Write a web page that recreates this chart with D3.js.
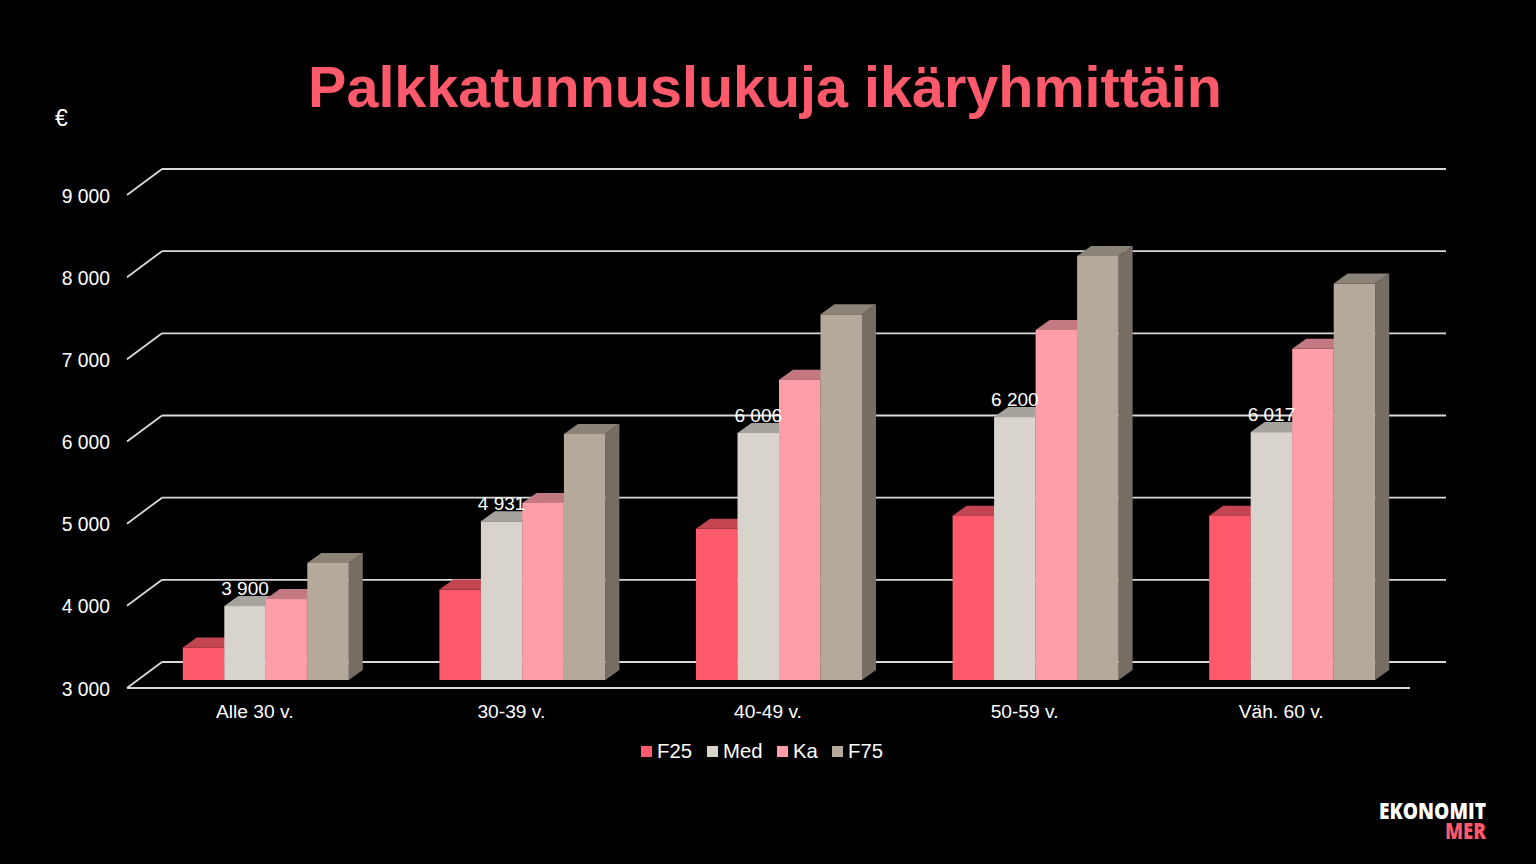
<!DOCTYPE html>
<html><head><meta charset="utf-8">
<script src="https://cdn.jsdelivr.net/npm/d3@7"></script>
<style>html,body{margin:0;padding:0;background:#000;overflow:hidden}svg{display:block}text{font-family:"Liberation Sans",Arial,sans-serif;fill:#fff}</style>
</head><body><svg id="c" width="1536" height="864"></svg>
<script>
const categories = ["Alle 30 v.","30-39 v.","40-49 v.","50-59 v.","Väh. 60 v."];
const seriesNames = ["F25","Med","Ka","F75"];
const F25 = [3395,4100,4840,5000,5000];
const Med = [3900,4931,6006,6200,6017];
const Ka  = [3985,5155,6655,7260,7030];
const F75 = [4425,5995,7450,8160,7825];
const medLabels = ["3 900","4 931","6 006","6 200","6 017"];
const yTicks = [3000,4000,5000,6000,7000,8000,9000];
const colors = ["#FF5A6B","#D8D4CC","#FF9DA9","#B5A99C"];
const seriesValues = [F25,Med,Ka,F75];

const svg = d3.select("#c");
const fmt = v => d3.format(",")(v).replace(",", " ");
const floorDepth = {dx:35, dy:-26}, barDepth = {dx:14, dy:-10};
const y = d3.scaleLinear().domain([3000,9000]).range([688,195]);
const barOffset = -8;
const x = d3.scaleBand().domain(categories).range([137.5,1420.5]).paddingInner(0.353).paddingOuter(0.1765);
const xi = d3.scaleBand().domain(seriesNames).range([0,x.bandwidth()]);

const gridColor = "#D9D9D9";
const grid = svg.append("g").attr("stroke",gridColor).attr("stroke-width",1.8).attr("fill","none");
yTicks.forEach(t=>{
  grid.append("line").attr("x1",127+floorDepth.dx).attr("x2",1410+floorDepth.dx+1)
      .attr("y1",y(t)+floorDepth.dy).attr("y2",y(t)+floorDepth.dy);
  grid.append("line").attr("x1",127).attr("x2",127+floorDepth.dx)
      .attr("y1",y(t)).attr("y2",y(t)+floorDepth.dy);
});
grid.append("line").attr("x1",127).attr("x2",1410).attr("y1",y(3000)).attr("y2",y(3000));

svg.append("g").selectAll("text").data(yTicks).join("text")
  .attr("x",110).attr("y",d=>y(d)+7.5).attr("text-anchor","end").attr("font-size",19.3).text(fmt);
svg.append("text").attr("x",55).attr("y",126).attr("font-size",23).text("€");

const base = y(3000)+barOffset;
const g = svg.append("g");
categories.forEach((c,ci)=>{
  seriesNames.forEach((s,si)=>{
    const v = seriesValues[si][ci];
    const x0 = x(c)+xi(s), w = xi.bandwidth(), top = y(v)+barOffset;
    const col = d3.color(colors[si]);
    const dark = k => d3.rgb(col.r*k,col.g*k,col.b*k).formatHex();
    g.append("path").attr("fill",dark(0.65))
      .attr("d",`M${x0+w},${top}l${barDepth.dx},${barDepth.dy}V${base+barDepth.dy}l${-barDepth.dx},${-barDepth.dy}Z`);
    g.append("path").attr("fill",dark(0.77))
      .attr("d",`M${x0},${top}l${barDepth.dx},${barDepth.dy}h${w}l${-barDepth.dx},${-barDepth.dy}Z`);
    g.append("rect").attr("x",x0).attr("y",top).attr("width",w).attr("height",base-top).attr("fill",colors[si]);
  });
});

svg.append("g").selectAll("text").data(categories).join("text")
  .attr("x",c=>x(c)+xi("Med")+xi.bandwidth()/2)
  .attr("y",(c,i)=>y(Med[i])+barOffset-11)
  .attr("text-anchor","middle").attr("font-size",19).text((c,i)=>medLabels[i]);

svg.append("g").selectAll("text").data(categories).join("text")
  .attr("x",c=>x(c)+x.bandwidth()/2-11).attr("y",718)
  .attr("text-anchor","middle").attr("font-size",19.2).text(c=>c);

svg.append("text").attr("x",765).attr("y",107).attr("text-anchor","middle")
  .attr("font-size",57.5).attr("font-weight",700).style("fill","#FF5A6B").text("Palkkatunnuslukuja ikäryhmittäin");

const legendX = [641,707,777,832];
seriesNames.forEach((s,i)=>{
  svg.append("rect").attr("x",legendX[i]).attr("y",746).attr("width",11).attr("height",11).attr("fill",colors[i]);
  svg.append("text").attr("x",legendX[i]+16).attr("y",758).attr("font-size",20.3).text(s);
});

svg.append("text").attr("x",1379).attr("y",819).attr("font-size",23).attr("font-weight",800)
  .attr("textLength",107).attr("lengthAdjust","spacingAndGlyphs").style("font-family","'Open Sans'").text("EKONOMIT");
svg.append("text").attr("x",1445).attr("y",839).attr("font-size",23).attr("font-weight",800)
  .attr("textLength",41).attr("lengthAdjust","spacingAndGlyphs").style("font-family","'Open Sans'").style("fill","#FF5A6B").text("MER");
</script></body></html>
